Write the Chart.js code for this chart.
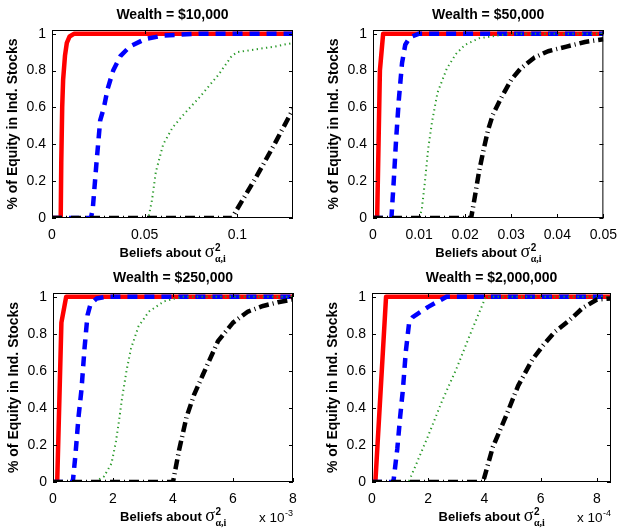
<!DOCTYPE html>
<html>
<head>
<meta charset="utf-8">
<script src="https://cdn.jsdelivr.net/npm/chart.js@4.4.0/dist/chart.umd.min.js"></script>
<style>
  body { margin: 0; background: #fff; }
  #wrap { position: relative; width: 626px; height: 529px; overflow: hidden; }
  canvas { position: absolute; }
</style>
</head>
<body>
<div id="wrap">
  <canvas id="p1" width="313" height="270" style="left:0;top:0"></canvas>
  <canvas id="p2" width="313" height="270" style="left:313px;top:0"></canvas>
  <canvas id="p3" width="313" height="267" style="left:0;top:262px"></canvas>
  <canvas id="p4" width="313" height="267" style="left:313px;top:262px"></canvas>
</div>
<script>
// values, [x, y] pairs
// Wealth = $10,000  (x in raw units)
const w10kRed   = [[0,0],[0.0047,0],[0.005,0.3],[0.0055,0.6],[0.006,0.75],[0.007,0.88],[0.008,0.95],[0.0095,0.985],[0.012,1],[0.13,1]];
const w10kBlue  = [[0,0],[0.021,0],[0.022,0.05],[0.024,0.3],[0.026,0.53],[0.028,0.6],[0.03,0.7],[0.033,0.8],[0.037,0.88],[0.042,0.93],[0.05,0.97],[0.06,0.99],[0.08,1],[0.13,1]];
const w10kGreen = [[0,0],[0.052,0],[0.054,0.1],[0.056,0.25],[0.06,0.4],[0.065,0.49],[0.07,0.55],[0.08,0.66],[0.09,0.78],[0.097,0.88],[0.1,0.9],[0.11,0.915],[0.12,0.93],[0.13,0.95]];
const w10kBlack = [[0,0],[0.097,0],[0.1,0.05],[0.11,0.22],[0.12,0.4],[0.13,0.59]];

// Wealth = $50,000
const w50kRed   = [[0,0],[0.0009,0],[0.0015,0.8],[0.0022,1],[0.05,1]];
const w50kBlue  = [[0,0],[0.004,0],[0.0045,0.2],[0.005,0.42],[0.0056,0.64],[0.0063,0.84],[0.007,0.94],[0.008,0.98],[0.01,1],[0.05,1]];
const w50kGreen = [[0,0],[0.0101,0],[0.0106,0.05],[0.0112,0.18],[0.012,0.38],[0.0128,0.52],[0.014,0.68],[0.016,0.81],[0.018,0.89],[0.02,0.94],[0.023,0.975],[0.027,0.99],[0.03,1],[0.05,1]];
const w50kBlack = [[0,0],[0.0213,0],[0.022,0.1],[0.023,0.25],[0.024,0.37],[0.025,0.48],[0.026,0.56],[0.028,0.66],[0.03,0.75],[0.032,0.81],[0.035,0.87],[0.038,0.905],[0.042,0.93],[0.046,0.955],[0.05,0.97]];

// Wealth = $250,000  (x in units of 1e-3)
const w250kRed   = [[0,0],[0.14,0],[0.28,0.86],[0.44,1],[8,1]];
const w250kBlue  = [[0,0],[0.66,0],[0.75,0.15],[0.85,0.35],[0.95,0.5],[1.05,0.72],[1.15,0.9],[1.25,0.96],[1.45,0.99],[1.8,1],[8,1]];
const w250kGreen = [[0,0],[1.4,0],[1.7,0.03],[1.95,0.1],[2.1,0.22],[2.2,0.33],[2.3,0.45],[2.45,0.6],[2.6,0.72],[2.85,0.84],[3.2,0.92],[3.7,0.975],[4.3,1],[8,1]];
const w250kBlack = [[0,0],[4.0,0],[4.2,0.17],[4.45,0.35],[4.7,0.47],[5.0,0.58],[5.5,0.76],[6.0,0.86],[6.5,0.92],[7.0,0.95],[7.5,0.97],[8,0.985]];

// Wealth = $2,000,000  (x in units of 1e-4)
const w2mRed   = [[0,0],[0.12,0],[0.5,1],[8.5,1]];
const w2mBlue  = [[0,0],[0.76,0],[0.9,0.18],[1.0,0.35],[1.1,0.5],[1.2,0.7],[1.32,0.86],[1.45,0.89],[2.0,0.945],[2.65,1],[8.5,1]];
const w2mGreen = [[0,0],[1.3,0],[1.5,0.07],[2.0,0.25],[2.5,0.44],[3.0,0.61],[3.5,0.8],[3.8,0.91],[4.05,1],[8.5,1]];
const w2mBlack = [[0,0],[3.95,0],[4.3,0.19],[4.75,0.35],[5.2,0.52],[5.7,0.66],[6.1,0.74],[6.5,0.81],[7.0,0.87],[7.5,0.94],[8.0,0.985],[8.5,0.99]];

const yTicks = [0, 0.2, 0.4, 0.6, 0.8, 1];
const yTickLabels = ['0', '0.2', '0.4', '0.6', '0.8', '1'];
const xTicks10k = [0, 0.05, 0.1];
const xTickLabels10k = ['0', '0.05', '0.1'];
const xTicks50k = [0, 0.01, 0.02, 0.03, 0.04, 0.05];
const xTickLabels50k = ['0', '0.01', '0.02', '0.03', '0.04', '0.05'];
const xTicksBig = [0, 2, 4, 6, 8];
const xTickLabelsBig = ['0', '2', '4', '6', '8'];

const SANS = '"Liberation Sans", Arial, Helvetica, sans-serif';
const SERIF = '"Liberation Serif", "DejaVu Serif", serif';
const GREEN = '#2a9a2a';

// MATLAB-like box, inward ticks and tex labels
const matlabAxes = {
  id: 'matlabAxes',
  afterDatasetsDraw(chart) {
    const { ctx, chartArea: a, scales: { x, y } } = chart;
    ctx.save();
    ctx.strokeStyle = '#000';
    ctx.lineWidth = 1;
    ctx.strokeRect(a.left + 0.5, a.top + 0.5, a.right - a.left - 1, a.bottom - a.top - 1);
    ctx.beginPath();
    x.ticks.forEach(t => {
      const px = Math.round(x.getPixelForValue(t.value)) + 0.5;
      ctx.moveTo(px, a.bottom); ctx.lineTo(px, a.bottom - 4);
      ctx.moveTo(px, a.top); ctx.lineTo(px, a.top + 4);
    });
    y.ticks.forEach(t => {
      const py = Math.round(y.getPixelForValue(t.value)) + 0.5;
      ctx.moveTo(a.left, py); ctx.lineTo(a.left + 4, py);
      ctx.moveTo(a.right, py); ctx.lineTo(a.right - 4, py);
    });
    ctx.stroke();
    ctx.restore();
  },
  afterDraw(chart, args, opts) {
    const { ctx, chartArea: a } = chart;
    const cx = (a.left + a.right) / 2;
    ctx.save();
    ctx.fillStyle = '#000';

    // title
    ctx.textAlign = 'center';
    ctx.textBaseline = 'alphabetic';
    ctx.font = 'bold 14px ' + SANS;
    ctx.fillText(opts.title, cx, a.top - 11);

    // y label
    ctx.save();
    ctx.translate(a.left - 39, (a.top + a.bottom) / 2);
    ctx.rotate(-Math.PI / 2);
    ctx.textBaseline = 'middle';
    ctx.fillText('% of Equity in Ind. Stocks', 0, 0);
    ctx.restore();

    // x label: Beliefs about sigma^2_{alpha,i}
    const base = a.bottom + 39;
    const main = 'Beliefs about ';
    ctx.textAlign = 'left';
    ctx.font = 'bold 13px ' + SANS;
    const wMain = ctx.measureText(main).width;
    ctx.font = '18px ' + SERIF;
    const wSig = ctx.measureText('σ').width;
    ctx.font = 'bold 10px ' + SANS;
    const wSup = ctx.measureText('2').width;
    ctx.font = 'bold 10px ' + SERIF;
    const wSub = ctx.measureText('α,i').width;
    let x0 = cx - (wMain + wSig + Math.max(wSup, wSub)) / 2;
    ctx.font = 'bold 13px ' + SANS;
    ctx.fillText(main, x0, base);
    x0 += wMain;
    ctx.font = '18px ' + SERIF;
    ctx.fillText('σ', x0, base);
    x0 += wSig + 0.5;
    ctx.font = 'bold 10px ' + SANS;
    ctx.fillText('2', x0, base - 6);
    ctx.font = 'bold 10px ' + SERIF;
    ctx.fillText('α,i', x0, base + 5);

    // exponent multiplier
    if (opts.exp) {
      ctx.font = '9px ' + SANS;
      const wE = ctx.measureText(opts.exp).width;
      ctx.textAlign = 'right';
      ctx.fillText(opts.exp, a.right, base - 5);
      ctx.font = '13.5px ' + SANS;
      ctx.fillText('x 10', a.right - wE - 0.5, base + 1);
    }
    ctx.restore();
  }
};

function line(pairs, color, dash, width) {
  return {
    data: pairs.map(([x, y]) => ({ x, y })),
    borderColor: color,
    borderWidth: width,
    borderDash: dash,
    borderCapStyle: 'butt',
    borderJoinStyle: 'round',
    pointRadius: 0,
    tension: 0,
    fill: false
  };
}

function panel(id, p) {
  const canvas = document.getElementById(id);
  const W = canvas.width, H = canvas.height;
  const a = p.area;
  new Chart(canvas, {
    type: 'line',
    data: {
      datasets: [
        line(p.black, '#000', [10, 4, 1, 4], 4.5),
        line(p.green, GREEN, [1.3, 3.4], 2),
        line(p.blue, '#0000ff', [10, 7], 4.5),
        line(p.red, '#ff0000', [], 4.5)
      ]
    },
    options: {
      responsive: false,
      animation: false,
      devicePixelRatio: 1,
      layout: { padding: { left: 0, top: a.top, right: W - a.right, bottom: 0 } },
      plugins: {
        legend: { display: false },
        tooltip: { enabled: false },
        matlabAxes: { title: p.title, exp: p.exp }
      },
      scales: {
        x: {
          type: 'linear',
          min: 0,
          max: p.xMax,
          grid: { display: false, drawTicks: false },
          border: { display: false },
          afterFit: s => { s.height = H - a.bottom; },
          afterBuildTicks: s => { s.ticks = p.xTicks.map(v => ({ value: v })); },
          ticks: {
            padding: 9,
            color: '#000',
            autoSkip: false,
            maxRotation: 0,
            font: { family: SANS, size: 14 },
            callback: (v, i) => p.xTickLabels[i]
          }
        },
        y: {
          type: 'linear',
          min: 0,
          max: 1.02,
          grid: { display: false, drawTicks: false },
          border: { display: false },
          afterFit: s => { s.width = a.left; },
          afterBuildTicks: s => { s.ticks = yTicks.map(v => ({ value: v })); },
          ticks: {
            padding: 6,
            color: '#000',
            font: { family: SANS, size: 14 },
            callback: (v, i) => yTickLabels[i]
          }
        }
      }
    },
    plugins: [matlabAxes]
  });
}

panel('p1', {
  title: 'Wealth = $10,000', area: { left: 52, right: 293, top: 30, bottom: 218 },
  xMax: 0.13, xTicks: xTicks10k, xTickLabels: xTickLabels10k,
  red: w10kRed, blue: w10kBlue, green: w10kGreen, black: w10kBlack
});
panel('p2', {
  title: 'Wealth = $50,000', area: { left: 60, right: 299, top: 30, bottom: 218 },
  xMax: 0.05, xTicks: xTicks50k, xTickLabels: xTickLabels50k,
  red: w50kRed, blue: w50kBlue, green: w50kGreen, black: w50kBlack
});
panel('p3', {
  title: 'Wealth = $250,000', area: { left: 53, right: 293, top: 31, bottom: 220 },
  xMax: 8, xTicks: xTicksBig, xTickLabels: xTickLabelsBig, exp: '-3',
  red: w250kRed, blue: w250kBlue, green: w250kGreen, black: w250kBlack
});
panel('p4', {
  title: 'Wealth = $2,000,000', area: { left: 59, right: 298, top: 31, bottom: 220 },
  xMax: 8.5, xTicks: xTicksBig, xTickLabels: xTickLabelsBig, exp: '-4',
  red: w2mRed, blue: w2mBlue, green: w2mGreen, black: w2mBlack
});
</script>
</body>
</html>
